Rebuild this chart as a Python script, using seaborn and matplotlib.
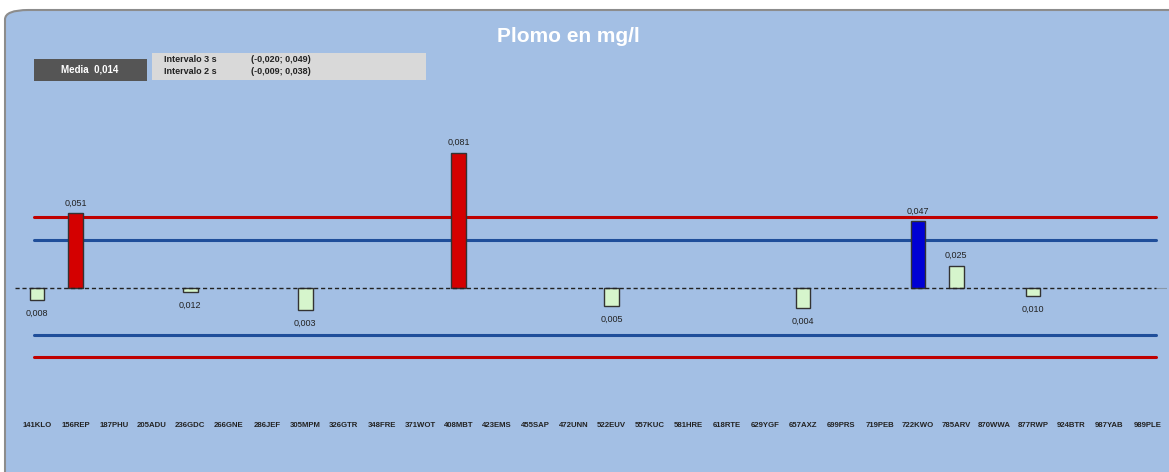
"""
Plomo en mg/l - resultados por laboratorio respecto a la media
"""
import numpy as np
import pandas as pd
import matplotlib.pyplot as plt
import seaborn as sns
from matplotlib.patches import FancyBboxPatch, Rectangle

# Datos
labs = ["141KLO", "156REP", "187PHU", "205ADU", "236GDC", "266GNE", "286JEF", "305MPM",
        "326GTR", "348FRE", "371WOT", "408MBT", "423EMS", "455SAP", "472UNN", "522EUV",
        "557KUC", "581HRE", "618RTE", "629YGF", "657AXZ", "699PRS", "719PEB", "722KWO",
        "785ARV", "870WWA", "877RWP", "924BTR", "987YAB", "989PLE"]
valores = [0.008, 0.051, None, None, 0.012, None, None, 0.003,
           None, None, None, 0.081, None, None, None, 0.005,
           None, None, None, None, 0.004, None, None, 0.047,
           0.025, None, 0.010, None, None, None]
media = 0.014
int_3s = (-0.020, 0.049)
int_2s = (-0.009, 0.038)

sns.set_theme(style="white")
plt.rcParams["font.family"] = ["Liberation Sans", "DejaVu Sans"]

df = pd.DataFrame({"lab": labs, "valor": valores}).dropna()
df["dev"] = df["valor"] - media


def estado(v):
    if v > int_3s[1] or v < int_3s[0]:
        return "fuera3s"
    if v > int_2s[1] or v < int_2s[0]:
        return "fuera2s"
    return "ok"


df["estado"] = df["valor"].apply(estado)
colores = {"fuera3s": "#D40000", "fuera2s": "#0000D4", "ok": "#D6F5CC"}

fig = plt.figure(figsize=(11.69, 4.72), dpi=100)
fig.patch.set_facecolor("white")

# Panel de fondo redondeado
panel = FancyBboxPatch((5 / 1169, -0.05), 1.2, (472 - 10) / 472 + 0.05,
                       boxstyle="round,pad=0,rounding_size=0.02",
                       transform=fig.transFigure, facecolor="#A3BFE4",
                       edgecolor="#8C8C8C", linewidth=1.5, zorder=-5)
fig.patches.append(panel)

ax = fig.add_axes([18 / 1169, 72 / 472, 1149 / 1169, 300 / 472])
ax.set_facecolor("none")
ax.set_zorder(1)

sns.barplot(data=df, x="lab", y="dev", order=labs, hue="estado", palette=colores,
            dodge=False, width=0.38, saturation=1, edgecolor="#333333", linewidth=1.0,
            legend=False, ax=ax, zorder=3)

ax.set_xlim(-0.5, len(labs) - 0.5)
ax.set_ylim(-0.0414 - media, 0.1071 - media)

# Lineas de intervalo
for lim, col in [(int_3s, "#C00000"), (int_2s, "#1F4E9A")]:
    for v in lim:
        ax.axhline(v - media, xmin=0.014, xmax=0.99, color=col, linewidth=2.2, zorder=2)
ax.axhline(0, xmin=-0.003, xmax=0.99, color="#222222", linewidth=1.0,
           linestyle=(0, (3, 2)), zorder=4, clip_on=False)
ax.axhline(0, xmin=0.99, xmax=1.0, color="#8899AA", linewidth=0.8, zorder=1)

# Etiquetas de valores
pos = {lab: i for i, lab in enumerate(labs)}
for _, r in df.iterrows():
    arriba = r["dev"] > 0
    ax.annotate(f"{r['valor']:.3f}".replace(".", ","), (pos[r["lab"]], r["dev"]),
                xytext=(0, 4 if arriba else -6), textcoords="offset points",
                ha="center", va="bottom" if arriba else "top",
                fontsize=6.5, color="#222222")

ax.set_xlabel("")
ax.set_ylabel("")
ax.set_yticks([])
ax.set_xticks(range(len(labs)))
ax.set_xticklabels(labs, fontsize=5.6, fontweight="bold", color="#222222")
ax.tick_params(axis="x", length=0, pad=16)
for s in ax.spines.values():
    s.set_visible(False)

# Titulo
fig.text(568 / 1169, 1 - 37 / 472, "Plomo en mg/l", ha="center", va="center",
         fontsize=15, fontweight="bold", color="white")

# Cuadros de media e intervalos
fig.patches.append(Rectangle((34 / 1169, 1 - 81 / 472), 113 / 1169, 22 / 472,
                             transform=fig.transFigure, facecolor="#555555",
                             edgecolor="none", zorder=2))
fig.text(90 / 1169, 1 - 70 / 472, "Media  " + f"{media:.3f}".replace(".", ","),
         ha="center", va="center", fontsize=7, fontweight="bold", color="white")
fig.patches.append(Rectangle((152 / 1169, 1 - 80 / 472), 274 / 1169, 27 / 472,
                             transform=fig.transFigure, facecolor="#D9D9D9",
                             edgecolor="none", zorder=2))


def fmt_int(t):
    return "(" + "; ".join(f"{v:.3f}".replace(".", ",") for v in t) + ")"


fig.text(164 / 1169, 1 - 60 / 472, "Intervalo 3 s", ha="left", va="center",
         fontsize=6.5, fontweight="bold", color="#222222")
fig.text(164 / 1169, 1 - 72 / 472, "Intervalo 2 s", ha="left", va="center",
         fontsize=6.5, fontweight="bold", color="#222222")
fig.text(251 / 1169, 1 - 60 / 472, fmt_int(int_3s), ha="left", va="center",
         fontsize=6.5, fontweight="bold", color="#222222")
fig.text(251 / 1169, 1 - 72 / 472, fmt_int(int_2s), ha="left", va="center",
         fontsize=6.5, fontweight="bold", color="#222222")

fig.savefig("out.png", dpi=100)
